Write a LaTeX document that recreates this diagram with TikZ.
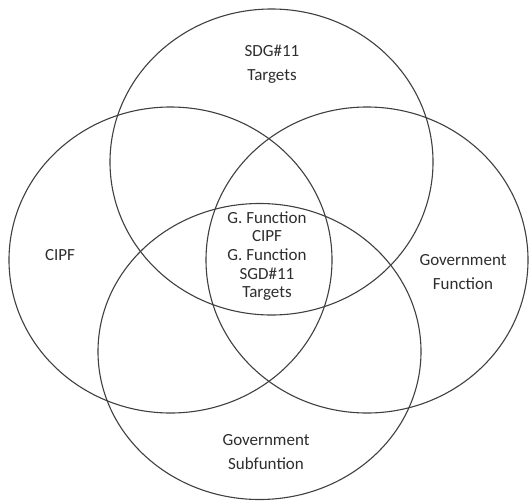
\documentclass[tikz,border=0pt]{standalone}
\usepackage{fontspec}
\setmainfont{Carlito}
\begin{document}
\begin{tikzpicture}[x=1pt,y=-1pt]
\tikzset{
  ring/.style={draw=black!75, line width=1.1pt},
  lbl/.style={text=black!82, font=\fontsize{17}{24}\selectfont, align=center, inner sep=0pt},
  midlbl/.style={text=black!82, font=\fontsize{17}{18.7}\selectfont, align=center, inner sep=0pt}
}
\useasboundingbox[fill=white] (0,0) rectangle (532,501);
\draw[ring] (271.5,162) ellipse [x radius=161.5pt, y radius=153pt];
\draw[ring] (170.5,260) ellipse [x radius=161.5pt, y radius=153pt];
\draw[ring] (367,260) ellipse [x radius=161pt, y radius=153pt];
\draw[ring] (259.5,351.5) ellipse [x radius=161.5pt, y radius=148pt];
\node[lbl] (sdg) at (272,64) {SDG\#11\\Targets};
\node[lbl] (cipf) at (60,255) {CIPF};
\node[lbl] (gf) at (463,272) {Government\\Function};
\node[lbl] (gs) at (266,452) {Government\\Subfuntion};
\node[midlbl] (mid) at (267,256) {G. Function\\CIPF\\G. Function\\SGD\#11\\Targets};
\end{tikzpicture}
\end{document}
